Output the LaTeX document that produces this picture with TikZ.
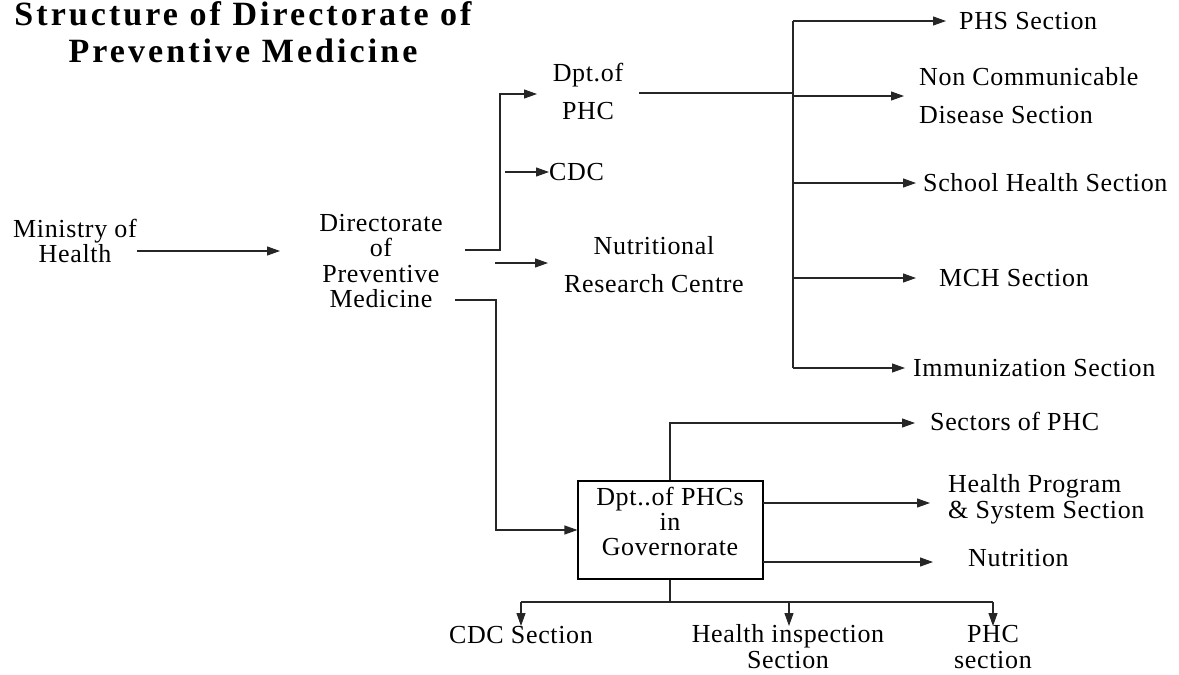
\documentclass[tikz,border=0pt]{standalone}
\usepackage{fontspec}
\setmainfont{Liberation Serif}
\newfontfamily\bodyfont{Liberation Serif}[LetterSpace=2.5]
\newfontfamily\titlefont{Liberation Serif}[LetterSpace=9]
\usetikzlibrary{arrows.meta}
\tikzset{
  txt/.style={inner sep=0pt, align=center, font=\bodyfont\fontsize{26}{26}\selectfont},
  txtl/.style={txt, align=left, anchor=west},
  ttl/.style={inner sep=0pt, align=center, font=\titlefont\bfseries\fontsize{34}{37}\selectfont},
  ln/.style={line width=1.1pt, draw=black!85},
  arr/.style={ln, -{Triangle[length=13pt,width=9pt]}},
  boxst/.style={draw, line width=1.1pt, minimum width=185pt, minimum height=98pt, inner sep=0pt}
}
\begin{document}
\begin{tikzpicture}[x=1pt,y=-1pt]
\useasboundingbox[fill=white] (0,0) rectangle (1179,675);

% title
\node[ttl] (title) at (243,32) {Structure of Directorate of\\Preventive Medicine};

% left
\node[txt, font=\bodyfont\fontsize{26}{25}\selectfont] (ministry) at (75,241) {Ministry of\\Health};
\node[txt, font=\bodyfont\fontsize{26}{25.6}\selectfont] (directorate) at (381,261) {Directorate\\of\\Preventive\\Medicine};

% middle
\node[txt, font=\bodyfont\fontsize{26}{38}\selectfont] (dptphc) at (588,91) {Dpt.of\\PHC};
\node[txtl] (cdc) at (549,172) {CDC};
\node[txt, font=\bodyfont\fontsize{26}{38}\selectfont] (nrc) at (654,265) {Nutritional\\Research Centre};

% right column
\node[txtl] (phs) at (959,21) {PHS Section};
\node[txtl, font=\bodyfont\fontsize{26}{38}\selectfont] (ncd) at (919,96) {Non Communicable\\Disease Section};
\node[txtl] (school) at (923,183) {School Health Section};
\node[txtl] (mch) at (939,278) {MCH Section};
\node[txtl] (immun) at (913,368) {Immunization Section};

% governorate box
\node[boxst] (gov) at (670.5,530) {};
\node[txt, font=\bodyfont\fontsize{26}{25}\selectfont] (govtext) at (670,521) {Dpt..of PHCs\\in\\Governorate};

\node[txtl] (sectors) at (930,421) {Sectors of PHC};
\node[txtl, font=\bodyfont\fontsize{26}{26}\selectfont] (hps) at (948,499) {Health Program\\\& System Section};
\node[txtl] (nutrition) at (968,558) {Nutrition};

\node[txt] (cdcsec) at (521,635) {CDC Section};
\node[txt, font=\bodyfont\fontsize{26}{26}\selectfont] (hisec) at (788,647) {Health inspection\\Section};
\node[txt, font=\bodyfont\fontsize{26}{26}\selectfont] (phcsec) at (993,647) {PHC\\section};

% coordinates
\coordinate (m1) at (137,251);
\coordinate (m2) at (280,251);
\coordinate (d1) at (465,250);
\coordinate (d1b) at (500,250);
\coordinate (d1c) at (537,94);
\coordinate (c1) at (505,172);
\coordinate (n1) at (495,263);
\coordinate (n2) at (548,263);
\coordinate (d3) at (455,300);
\coordinate (d3b) at (496,300);
\coordinate (p1) at (639,93);
\coordinate (bus) at (793,0);
\coordinate (gtop) at (670,423);
\coordinate (gr1) at (763,503);
\coordinate (gr2) at (763,562);
\coordinate (gb) at (670,602);
\coordinate (bl) at (521,602);
\coordinate (bm) at (789,602);
\coordinate (br) at (993,602);

% connectors left/middle
\draw[arr] (m1) -- (m2);
\draw[arr] (d1) -- (d1b) |- (d1c);
\draw[arr] (c1) -- (cdc.west);
\draw[arr] (n1) -- (n2);
\draw[arr] (d3) -- (d3b) |- (gov.west);

% right bus
\draw[ln] (p1) -- (p1 -| bus);
\draw[ln] (bus |- phs.west) -- (bus |- immun.west);
\draw[arr, shorten >=13pt] (bus |- phs.west) -- (phs.west);
\draw[arr, shorten >=15pt] (bus |- ncd.west) -- (ncd.west);
\draw[arr, shorten >=7pt] (bus |- school.west) -- (school.west);
\draw[arr, shorten >=23pt] (bus |- mch.west) -- (mch.west);
\draw[arr, shorten >=8pt] (bus |- immun.west) -- (immun.west);

% governorate branches
\draw[arr, shorten >=15pt] (gov.north -| gtop) -- (gtop) -- (gtop -| sectors.west);
\draw[arr, shorten >=18pt] (gr1) -- (gr1 -| hps.west);
\draw[arr, shorten >=35pt] (gr2) -- (gr2 -| nutrition.west);
\draw[ln] (gov.south -| gb) -- (gb);
\draw[ln] (bl) -- (br);
\draw[arr] (bl) -- (bl |- 0,626);
\draw[arr] (bm) -- (bm |- 0,626);
\draw[arr] (br) -- (br |- 0,626);
\end{tikzpicture}
\end{document}
